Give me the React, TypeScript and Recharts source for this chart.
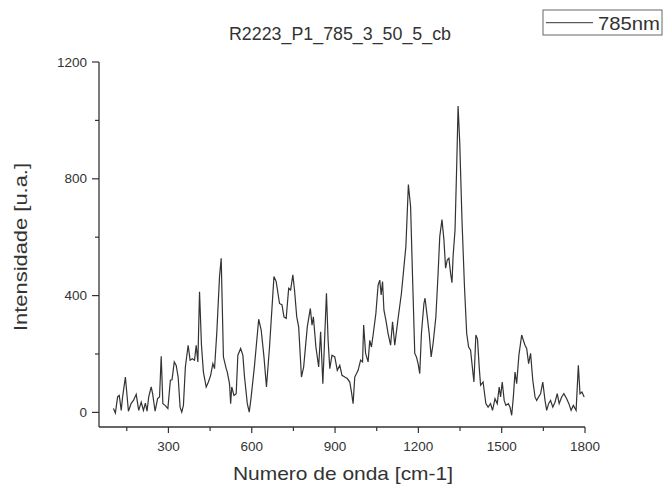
import React from 'react';
import { LineChart, Line, XAxis, YAxis, Label } from 'recharts';

const wavenumber = [
  102, 109, 117, 123, 130, 135, 145, 156, 166, 174, 184, 193, 202, 210, 217, 223, 229, 238, 243, 252,
  261, 268, 274, 280, 288, 298, 307, 313, 321, 328, 335, 342, 348, 354, 361, 371, 378, 386, 394, 400,
  406, 412, 419, 426, 436, 444, 452, 460, 466, 474, 484, 490, 498, 508, 512, 520, 524, 528, 536, 544,
  550, 560, 568, 574, 584, 591, 598, 610, 625, 634, 644, 653, 664, 680, 688, 700, 709, 716, 724, 733,
  740, 748, 754, 762, 769, 779, 787, 800, 811, 817, 822, 831, 841, 848, 856, 869, 875, 881, 889, 899,
  908, 917, 925, 935, 944, 953, 959, 965, 971, 983, 992, 999, 1003, 1010, 1019, 1025, 1031, 1037, 1047, 1055,
  1061, 1066, 1071, 1076, 1083, 1091, 1100, 1107, 1115, 1127, 1139, 1147, 1155, 1164, 1172, 1179, 1187, 1193, 1199, 1205,
  1211, 1220, 1224, 1232, 1239, 1246, 1253, 1263, 1271, 1277, 1285, 1292, 1298, 1304, 1310, 1316, 1321, 1325, 1332, 1338,
  1343, 1349, 1357, 1366, 1374, 1381, 1388, 1393, 1400, 1407, 1413, 1419, 1424, 1433, 1443, 1451, 1460, 1467, 1476, 1484,
  1491, 1496, 1502, 1509, 1515, 1524, 1530, 1536, 1542, 1548, 1554, 1562, 1572, 1578, 1584, 1590, 1597, 1604, 1612, 1620,
  1626, 1633, 1640, 1648, 1656, 1662, 1669, 1676, 1684, 1692, 1700, 1707, 1716, 1724, 1734, 1742, 1750, 1758, 1768, 1776,
  1782, 1789, 1797,
];

const intensity = [
  13, -2, 53, 58, 7, 53, 121, 4, 31, 41, 62, 7, 35, 7, 32, 4, 53, 87, 64, 4,
  47, 53, 192, 30, 24, 13, 110, 112, 173, 161, 121, 18, 1, 24, 156, 230, 179, 184, 179, 230,
  173, 413, 230, 138, 87, 104, 127, 167, 150, 270, 465, 528, 190, 150, 138, 98, 30, 87, 58, 64,
  196, 219, 196, 121, 30, 1, 53, 161, 319, 282, 190, 87, 224, 465, 448, 373, 368, 327, 322, 425,
  419, 471, 419, 327, 293, 121, 156, 293, 356, 299, 327, 224, 156, 276, 98, 408, 247, 150, 196, 190,
  144, 161, 127, 121, 116, 104, 70, 30, 121, 144, 179, 173, 299, 202, 173, 247, 224, 265, 339, 436,
  453, 402, 448, 350, 316, 270, 230, 310, 230, 322, 408, 488, 568, 780, 705, 465, 202, 190, 167, 133,
  270, 373, 391, 327, 270, 190, 236, 327, 476, 602, 660, 591, 494, 522, 528, 476, 444, 534, 625, 843,
  1049, 923, 660, 430, 270, 224, 213, 167, 104, 265, 250, 156, 93, 104, 30, 18, 30, 7, 47, 30,
  87, 53, 104, 41, 24, 30, 18, -10, 53, 138, 98, 196, 265, 247, 230, 219, 167, 202, 110, 53,
  41, 53, 64, 104, 41, 7, 30, 41, 18, 35, 64, 30, 53, 64, 47, 30, 7, 24, 7, 161,
  64, 70, 53,
];

const xTicks = [150, 300, 450, 600, 750, 900, 1050, 1200, 1350, 1500, 1650, 1800];
const xLabelTicks = [300, 600, 900, 1200, 1500, 1800];
const yTicks = [0, 200, 400, 600, 800, 1000, 1200];
const yLabelTicks = [0, 400, 800, 1200];

const chartTitle = 'R2223_P1_785_3_50_5_cb';
const xTitle = 'Numero de onda [cm-1]';
const yTitle = 'Intensidade [u.a.]';
const seriesName = '785nm';

const data = wavenumber.map((x, i) => ({ x, y: intensity[i] }));

const FONT = '"Liberation Sans", Arial, sans-serif';
const INK = '#333333';
const AXIS_X = 99;
const AXIS_Y = 427;

const XTick = (props: any) => {
  const { x, payload } = props;
  const v = payload.value;
  const major = xLabelTicks.includes(v);
  return (
    <g>
      <line x1={x} x2={x} y1={AXIS_Y} y2={AXIS_Y + (major ? 6 : 4)} stroke={INK} strokeWidth={1.2} />
      {major && (
        <text x={x} y={AXIS_Y + 24} textAnchor="middle" fontSize={13.5} fill={INK} fontFamily={FONT}>
          {v}
        </text>
      )}
    </g>
  );
};

const YTick = (props: any) => {
  const { y, payload } = props;
  const v = payload.value;
  const major = yLabelTicks.includes(v);
  return (
    <g>
      <line x1={AXIS_X} x2={AXIS_X - (major ? 7 : 4)} y1={y} y2={y} stroke={INK} strokeWidth={1.2} />
      {major && (
        <text x={87} y={y + 4.5} textAnchor="end" fontSize={13.5} fill={INK} fontFamily={FONT}>
          {v}
        </text>
      )}
    </g>
  );
};

export default function App() {
  return (
    <div style={{ position: 'absolute', left: 0, top: 0, width: 665, height: 488, background: '#fff' }}>
      <LineChart
        width={665}
        height={488}
        data={data}
        margin={{ top: 62, right: 80, bottom: 31, left: 0 }}
      >
        <XAxis
          dataKey="x"
          type="number"
          domain={[50, 1800]}
          ticks={xTicks}
          allowDataOverflow
          height={30}
          axisLine={{ stroke: INK, strokeWidth: 1.3 }}
          tickLine={false}
          tick={<XTick />}
          interval={0}
        >
          <Label
            content={() => (
              <text
                x={343}
                y={480}
                textAnchor="middle"
                fontSize={19}
                textLength={220}
                lengthAdjust="spacingAndGlyphs"
                fill={INK}
                fontFamily={FONT}
              >
                {xTitle}
              </text>
            )}
          />
        </XAxis>
        <YAxis
          type="number"
          domain={[-50, 1200]}
          ticks={yTicks}
          allowDataOverflow
          width={99}
          axisLine={{ stroke: INK, strokeWidth: 1.3 }}
          tickLine={false}
          tick={<YTick />}
          interval={0}
        >
          <Label
            content={() => (
              <text
                x={27}
                y={247}
                transform="rotate(-90 27 247)"
                textAnchor="middle"
                fontSize={19}
                textLength={168}
                lengthAdjust="spacingAndGlyphs"
                fill={INK}
                fontFamily={FONT}
              >
                {yTitle}
              </text>
            )}
          />
        </YAxis>
        <Line
          type="linear"
          dataKey="y"
          name={seriesName}
          stroke="#333333"
          strokeWidth={1.2}
          dot={false}
          isAnimationActive={false}
        />
      </LineChart>
      <svg
        width={665}
        height={60}
        style={{ position: 'absolute', left: 0, top: 0, pointerEvents: 'none' }}
      >
        <text
          x={340}
          y={40}
          textAnchor="middle"
          fontSize={18}
          textLength={222}
          lengthAdjust="spacingAndGlyphs"
          fill={INK}
          fontFamily={FONT}
        >
          {chartTitle}
        </text>
        <rect x={543} y={10} width={119} height={25} fill="#fff" stroke="#666" strokeWidth={1} />
        <line x1={546} x2={593} y1={22.7} y2={22.7} stroke={INK} strokeWidth={1} />
        <text
          x={598}
          y={29.5}
          fontSize={19}
          textLength={62}
          lengthAdjust="spacingAndGlyphs"
          fill={INK}
          fontFamily={FONT}
        >
          {seriesName}
        </text>
      </svg>
    </div>
  );
}
